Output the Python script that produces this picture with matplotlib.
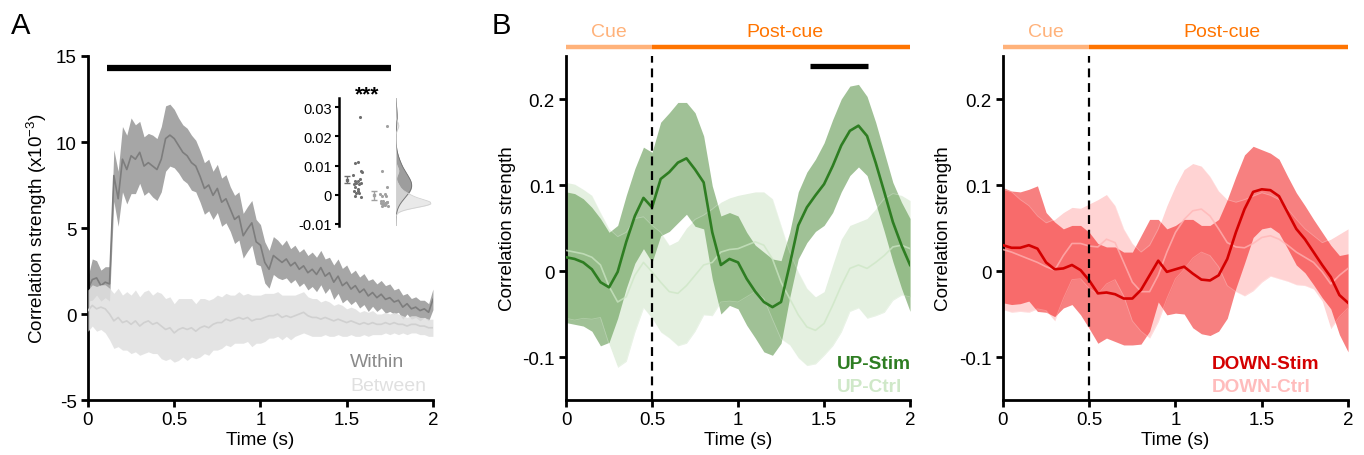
import numpy as np
import matplotlib
matplotlib.use("Agg")
import matplotlib.pyplot as plt

plt.rcParams['font.family'] = ['Liberation Sans', 'DejaVu Sans']
plt.rcParams['mathtext.default'] = 'regular'

# ---------------- Panel A data (x10^-3) ----------------
time_a = np.linspace(0, 2, 81)
within_mean = [1.45, 2.0, 2.1, 1.65, 1.85, 1.75, 8.05, 6.7, 9.0, 8.4,
               9.2, 9.0, 9.4, 8.6, 8.8, 8.6, 8.4, 9.0, 10.2, 10.4,
               10.2, 9.8, 9.4, 9.2, 8.8, 8.6, 8.0, 7.3, 7.5, 6.9,
               7.3, 6.5, 6.7, 6.1, 5.5, 5.7, 4.55, 4.95, 5.3, 4.2,
               4.0, 3.0, 2.6, 3.4, 3.2, 3.0, 3.2, 2.8, 3.0, 2.6,
               2.8, 2.4, 2.6, 2.3, 2.7, 2.2, 2.4, 1.85, 2.2, 1.65,
               1.85, 1.45, 1.65, 1.25, 1.45, 1.05, 1.25, 0.95, 1.15, 0.85,
               0.95, 0.7, 0.8, 0.4, 0.6, 0.3, 0.4, 0.2, 0.3, 0.1,
               0.85]
within_sem = [0.7, 1.2, 1.0, 0.9, 0.9, 1.0, 1.5, 1.6, 1.9, 2.0,
              2.2, 2.0, 1.8, 1.7, 1.7, 1.8, 1.8, 1.9, 1.9, 1.8,
              1.7, 1.6, 1.6, 1.6, 1.6, 1.5, 1.5, 1.5, 1.5, 1.4,
              1.4, 1.4, 1.4, 1.3, 1.4, 1.4, 1.3, 1.3, 1.3, 1.3,
              1.2, 1.2, 1.1, 1.1, 1.1, 1.0, 1.1, 1.0, 1.0, 1.0,
              1.0, 1.0, 1.0, 1.0, 1.0, 1.0, 0.9, 1.0, 1.0, 1.0,
              1.0, 0.9, 0.9, 0.9, 0.9, 0.9, 0.8, 0.8, 0.8, 0.8,
              0.8, 0.7, 0.7, 0.7, 0.6, 0.6, 0.6, 0.6, 0.5, 0.5,
              0.6]
between_mean = [0.2, 0.5, 0.3, 0.4, 0.3, 0.0, -0.4, -0.2, -0.5, -0.4,
                -0.6, -0.4, -0.7, -0.5, -0.4, -0.6, -0.5, -0.7, -0.9, -0.8,
                -1.1, -0.9, -0.8, -0.9, -0.8, -1.0, -0.8, -0.7, -0.8, -0.6,
                -0.5, -0.5, -0.3, -0.4, -0.3, -0.2, -0.3, -0.2, -0.4, -0.3,
                -0.3, -0.2, -0.1, -0.1, 0.0, -0.2, -0.1, -0.2, -0.1, 0.0,
                0.1, -0.1, -0.2, -0.2, -0.3, -0.2, -0.3, -0.4, -0.3, -0.4,
                -0.5, -0.4, -0.5, -0.6, -0.5, -0.6, -0.5, -0.6, -0.6, -0.5,
                -0.6, -0.5, -0.6, -0.6, -0.7, -0.6, -0.6, -0.7, -0.7, -0.8,
                -0.8]
between_sem = [1.2, 1.2, 1.3, 1.3, 1.4, 1.5, 1.6, 1.7, 1.6, 1.7,
               1.7, 1.8, 1.7, 1.8, 1.8, 1.7, 1.8, 1.9, 1.8, 1.8,
               1.7, 1.8, 1.7, 1.8, 1.7, 1.6, 1.7, 1.6, 1.6, 1.5,
               1.6, 1.5, 1.5, 1.5, 1.4, 1.5, 1.4, 1.4, 1.5, 1.4,
               1.4, 1.4, 1.3, 1.3, 1.3, 1.3, 1.2, 1.3, 1.2, 1.2,
               1.2, 1.1, 1.1, 1.1, 1.0, 1.0, 1.0, 0.9, 0.9, 0.9,
               0.8, 0.8, 0.8, 0.7, 0.7, 0.7, 0.7, 0.6, 0.6, 0.6,
               0.6, 0.6, 0.6, 0.5, 0.5, 0.5, 0.5, 0.5, 0.5, 0.5,
               0.5]
sig_a = (0.11, 1.755)

# inset (per-session values)
within_pts = [0.0267, 0.0109, 0.0112, 0.0068, 0.0080, 0.0077, 0.0054, 0.0046,
              0.0039, 0.0037, 0.0037, 0.0028, 0.0039, 0.0020, 0.0014, 0.0005,
              0.0006, -0.0003, -0.0009, 0.0014, 0.0046]
within_jit = [0.475, 0.29, 0.39, 0.225, 0.51, 0.54, 0.475, 0.41,
              0.35, 0.26, 0.45, 0.31, 0.51, 0.39, 0.26, 0.35,
              0.44, 0.31, 0.51, 0.41, 0.29]
between_pts = [0.0236, 0.0082, 0.0028, 0.0003, 0.0003, -0.0005, -0.0005, -0.0020,
               -0.0022, -0.0026, -0.0031, -0.0037, -0.0037, -0.0028, -0.0033,
               -0.0030, -0.0034, -0.0025, -0.0036, -0.0029]
between_jit = [1.475, 1.29, 1.475, 1.225, 1.41, 1.29, 1.44, 1.26,
               1.35, 1.475, 1.39, 1.51, 1.29, 1.41, 1.35,
               1.45, 1.32, 1.50, 1.40, 1.27]

# ---------------- Panel B data ----------------
time_b = np.linspace(0, 2, 41)
up_stim_mean = [0.016, 0.014, 0.010, 0.002, -0.013, -0.019, -0.001, 0.034, 0.064, 0.085,
                0.074, 0.107, 0.115, 0.126, 0.131, 0.118, 0.103, 0.045, 0.007, 0.014,
                0.010, -0.009, -0.024, -0.036, -0.042, -0.036, 0.007, 0.053, 0.074, 0.088,
                0.101, 0.122, 0.146, 0.163, 0.169, 0.157, 0.126, 0.092, 0.057, 0.030,
                0.007]
up_stim_upper = [0.092, 0.090, 0.084, 0.074, 0.061, 0.045, 0.053, 0.088, 0.119, 0.144,
                 0.138, 0.173, 0.184, 0.196, 0.196, 0.184, 0.157, 0.099, 0.064, 0.068,
                 0.064, 0.045, 0.030, 0.022, 0.014, 0.012, 0.045, 0.092, 0.115, 0.130,
                 0.149, 0.176, 0.200, 0.215, 0.217, 0.203, 0.173, 0.138, 0.103, 0.080,
                 0.061]
up_ctrl_mean = [0.024, 0.022, 0.020, 0.016, 0.007, -0.018, -0.036, -0.030, -0.005, 0.010,
                -0.001, -0.013, -0.024, -0.026, -0.017, -0.005, 0.007, 0.010, 0.022, 0.025,
                0.026, 0.030, 0.034, 0.030, 0.014, -0.013, -0.032, -0.051, -0.065, -0.069,
                -0.061, -0.040, -0.017, 0.003, 0.007, 0.003, 0.010, 0.018, 0.028, 0.030,
                0.026]
up_ctrl_upper = [0.103, 0.101, 0.095, 0.088, 0.068, 0.049, 0.040, 0.045, 0.061, 0.063,
                 0.053, 0.045, 0.030, 0.035, 0.050, 0.060, 0.065, 0.072, 0.080, 0.085,
                 0.088, 0.090, 0.092, 0.092, 0.084, 0.053, 0.022, -0.001, -0.020, -0.030,
                 -0.024, 0.007, 0.037, 0.053, 0.057, 0.061, 0.072, 0.084, 0.090, 0.088,
                 0.082]
down_stim_mean = [0.030, 0.027, 0.027, 0.030, 0.026, 0.010, 0.002, 0.003, 0.007, 0.001,
                  -0.011, -0.026, -0.025, -0.027, -0.032, -0.032, -0.022, -0.005, 0.012, -0.001,
                  0.002, 0.005, -0.003, -0.010, -0.011, -0.005, 0.014, 0.045, 0.072, 0.092,
                  0.095, 0.094, 0.087, 0.068, 0.049, 0.037, 0.022, 0.007, -0.007, -0.028,
                  -0.037]
down_stim_upper = [0.097, 0.093, 0.092, 0.095, 0.099, 0.068, 0.057, 0.049, 0.053, 0.053,
                   0.045, 0.032, 0.028, 0.028, 0.022, 0.022, 0.041, 0.060, 0.060, 0.049,
                   0.053, 0.060, 0.060, 0.053, 0.053, 0.060, 0.083, 0.110, 0.135, 0.145,
                   0.141, 0.137, 0.130, 0.110, 0.091, 0.076, 0.060, 0.045, 0.030, 0.018,
                   0.020]
down_ctrl_mean = [0.025, 0.022, 0.018, 0.014, 0.010, 0.005, 0.001, 0.018, 0.032, 0.032,
                  0.029, 0.028, 0.037, 0.033, 0.010, -0.013, -0.024, -0.024, -0.005, 0.022,
                  0.045, 0.060, 0.070, 0.072, 0.064, 0.049, 0.033, 0.028, 0.027, 0.032,
                  0.039, 0.041, 0.037, 0.030, 0.022, 0.016, 0.010, -0.001, -0.015, -0.005,
                  0.003]
down_ctrl_upper = [0.095, 0.092, 0.083, 0.076, 0.064, 0.056, 0.060, 0.068, 0.074, 0.073,
                   0.078, 0.083, 0.089, 0.076, 0.049, 0.032, 0.022, 0.030, 0.049, 0.076,
                   0.099, 0.118, 0.125, 0.122, 0.110, 0.093, 0.083, 0.080, 0.083, 0.087,
                   0.091, 0.088, 0.083, 0.072, 0.060, 0.049, 0.041, 0.033, 0.037, 0.043,
                   0.049]
sig_up = (1.42, 1.756)
epochs = [("Cue", 0.0, 0.5, 0.25), ("Post-cue", 0.5, 2.0, 1.27)]

# ---------------- Figure ----------------
fig = plt.figure(figsize=(13.64, 4.56), dpi=100)

TICK_FS = 13.5
LAB_FS = 13.6

def style(ax):
    for s in ['top', 'right']:
        ax.spines[s].set_visible(False)
    for s in ['left', 'bottom']:
        ax.spines[s].set_linewidth(2)
    ax.tick_params(direction='out', length=5, width=2, labelsize=TICK_FS, pad=3)

# ---- Panel A ----
axA = fig.add_axes([0.0645, 0.1206, 0.2529, 0.7544])
wm = np.array(within_mean); ws = np.array(within_sem)
bm = np.array(between_mean); bs = np.array(between_sem)
axA.fill_between(time_a, wm - ws, wm + ws, color='#a6a6a6', lw=0, zorder=1)
axA.plot(time_a, wm, color='#7d7d7d', lw=1.2, zorder=2)
axA.fill_between(time_a, bm - bs, bm + bs, color='#e0e0e0', alpha=0.85, lw=0, zorder=3)
axA.plot(time_a, bm, color='#d0d0d0', lw=1.2, zorder=4)
axA.plot(sig_a, [14.3, 14.3], color='k', lw=4.5, solid_capstyle='butt', zorder=5)
axA.set_xlim(0, 2)
axA.set_ylim(-5, 15)
axA.set_xticks([0, 0.5, 1, 1.5, 2])
axA.set_xticklabels(['0', '0.5', '1', '1.5', '2'])
axA.set_yticks([-5, 0, 5, 10, 15])
axA.set_yticklabels(['-5', '0', '5', '10', '15'])
style(axA)
axA.set_xlabel('Time (s)', fontsize=LAB_FS, labelpad=2)
axA.set_ylabel('Correlation strength (x10$^{-3}$)', fontsize=LAB_FS, labelpad=5)
axA.text(1.519, -2.79, 'Within', color='#8a8a8a', fontsize=14, va='center', ha='left')
axA.text(1.519, -4.13, 'Between', color='#e0e0e0', fontsize=14, va='center', ha='left')
fig.text(11 / 1364, 1 - 26 / 456, 'A', fontsize=21, va='center', ha='left')

# ---- Inset ----
axI = fig.add_axes([0.2485, 0.5022, 0.0389, 0.2807])
axI.scatter(within_jit, within_pts, s=5, color='#6e6e6e', lw=0, zorder=3)
axI.scatter(between_jit, between_pts, s=5, color='#a0a0a0', lw=0, zorder=3)
for xpos, pts, col in [(0.0, within_pts, '#6e6e6e'), (1.0, between_pts, '#a0a0a0')]:
    p = np.array(pts)
    m = p.mean(); se = p.std(ddof=1) / np.sqrt(len(p))
    axI.errorbar([xpos], [m], yerr=[se], fmt='s', ms=2, color=col, ecolor=col,
                 elinewidth=1, capsize=2, capthick=1, zorder=4)
axI.set_xlim(-0.3, 1.67)
axI.set_ylim(-0.0107, 0.0331)
axI.set_yticks([-0.01, 0, 0.01, 0.02, 0.03])
axI.set_yticklabels(['-0.01', '0', '0.01', '0.02', '0.03'])
axI.set_xticks([])
for s in ['top', 'right', 'bottom']:
    axI.spines[s].set_visible(False)
axI.spines['left'].set_linewidth(1.8)
axI.tick_params(axis='y', direction='out', length=3, width=1.5, labelsize=10.5, pad=2)
axI.patch.set_alpha(0)
axI.text(0.74, 0.0345, '***', fontsize=15, fontweight='bold', ha='center', va='center')

# KDE axis
axK = fig.add_axes([0.2903, 0.5022, 0.0257, 0.2807])
grid = np.linspace(-0.0107, 0.0331, 300)
def kde(vals, g, bw):
    v = np.array(vals)[:, None]
    d = np.exp(-0.5 * ((g[None, :] - v) / bw) ** 2).sum(axis=0)
    return d / (len(vals) * bw * np.sqrt(2 * np.pi))
kw = kde(within_pts, grid, 0.0030)
kb = kde(between_pts, grid, 0.0013)
axK.fill_betweenx(grid, 0, kw, color='#8c8c8c', alpha=0.85, lw=0)
axK.plot(kw, grid, color='#707070', lw=0.6)
axK.fill_betweenx(grid, 0, kb, color='#e2e2e2', alpha=0.75, lw=0)
axK.plot(kb, grid, color='#d0d0d0', lw=0.6)
axK.set_ylim(-0.0107, 0.0331)
axK.set_xlim(0, max(kb.max(), kw.max()) * 1.0)
axK.axis('off')

# ---- Panel B ----
def panel_b(rect, stim_m, stim_u, ctrl_m, ctrl_u, stim_band, stim_line,
            ctrl_face, ctrl_alpha, ctrl_line, labels, lab_cols, lab_x, sig=None):
    ax = fig.add_axes(rect)
    sm = np.array(stim_m); su = np.array(stim_u); sl = 2 * sm - su
    cm = np.array(ctrl_m); cu = np.array(ctrl_u); cl = 2 * cm - cu
    ax.fill_between(time_b, sl, su, color=stim_band, lw=0, zorder=1)
    ax.fill_between(time_b, cl, cu, color=ctrl_face, alpha=ctrl_alpha, lw=0, zorder=2)
    ax.plot(time_b, cu, color='white', alpha=0.25, lw=0.6, zorder=2.5)
    ax.plot(time_b, cl, color='white', alpha=0.25, lw=0.6, zorder=2.5)
    ax.plot(time_b, cm, color=ctrl_line, alpha=0.75, lw=1.2, zorder=3)
    ax.plot(time_b, sm, color=stim_line, lw=1.9, zorder=4)
    ax.axvline(0.5, color='k', ls=(0, (4, 2.6)), lw=1.6, zorder=5)
    ax.set_xlim(0, 2)
    ax.set_ylim(-0.15, 0.25)
    ax.set_xticks([0, 0.5, 1, 1.5, 2])
    ax.set_xticklabels(['0', '0.5', '1', '1.5', '2'])
    ax.set_yticks([-0.1, 0, 0.1, 0.2])
    ax.set_yticklabels(['-0.1', '0', '0.1', '0.2'])
    style(ax)
    ax.set_xlabel('Time (s)', fontsize=LAB_FS, labelpad=2)
    ax.set_ylabel('Correlation strength', fontsize=LAB_FS, labelpad=5)
    ep_cols = ['#ffb27a', '#ff7400']
    for (name, x0, x1, xc), c in zip(epochs, ep_cols):
        ax.plot([x0, x1], [0.2605, 0.2605], color=c, lw=3.2, solid_capstyle='butt', clip_on=False)
        ax.text(xc, 0.2785, name, color=c, fontsize=14, ha='center', va='center')
    if sig is not None:
        ax.plot(sig, [0.238, 0.238], color='k', lw=3.8, solid_capstyle='butt', zorder=6)
    ax.text(lab_x, -0.108, labels[0], color=lab_cols[0], fontsize=13.7, fontweight='bold', va='center', ha='left')
    ax.text(lab_x, -0.134, labels[1], color=lab_cols[1], fontsize=13.7, fontweight='bold', va='center', ha='left')
    return ax

panel_b([0.415, 0.1206, 0.2522, 0.7544], up_stim_mean, up_stim_upper, up_ctrl_mean, up_ctrl_upper,
        '#a0c196', '#2e7d22', '#60a749', 0.17, '#cde6c5',
        ['UP-Stim', 'UP-Ctrl'], ['#2e7d22', '#cfe8c8'], 1.576, sig=sig_up)
fig.text(492 / 1364, 1 - 26 / 456, 'B', fontsize=21, va='center', ha='left')
panel_b([0.7353, 0.1206, 0.2530, 0.7544], down_stim_mean, down_stim_upper, down_ctrl_mean, down_ctrl_upper,
        '#f78080', '#d40000', '#ff1010', 0.18, '#ffb5b5',
        ['DOWN-Stim', 'DOWN-Ctrl'], ['#d40000', '#ffbcbc'], 1.212)

fig.savefig('out.png', dpi=100)
